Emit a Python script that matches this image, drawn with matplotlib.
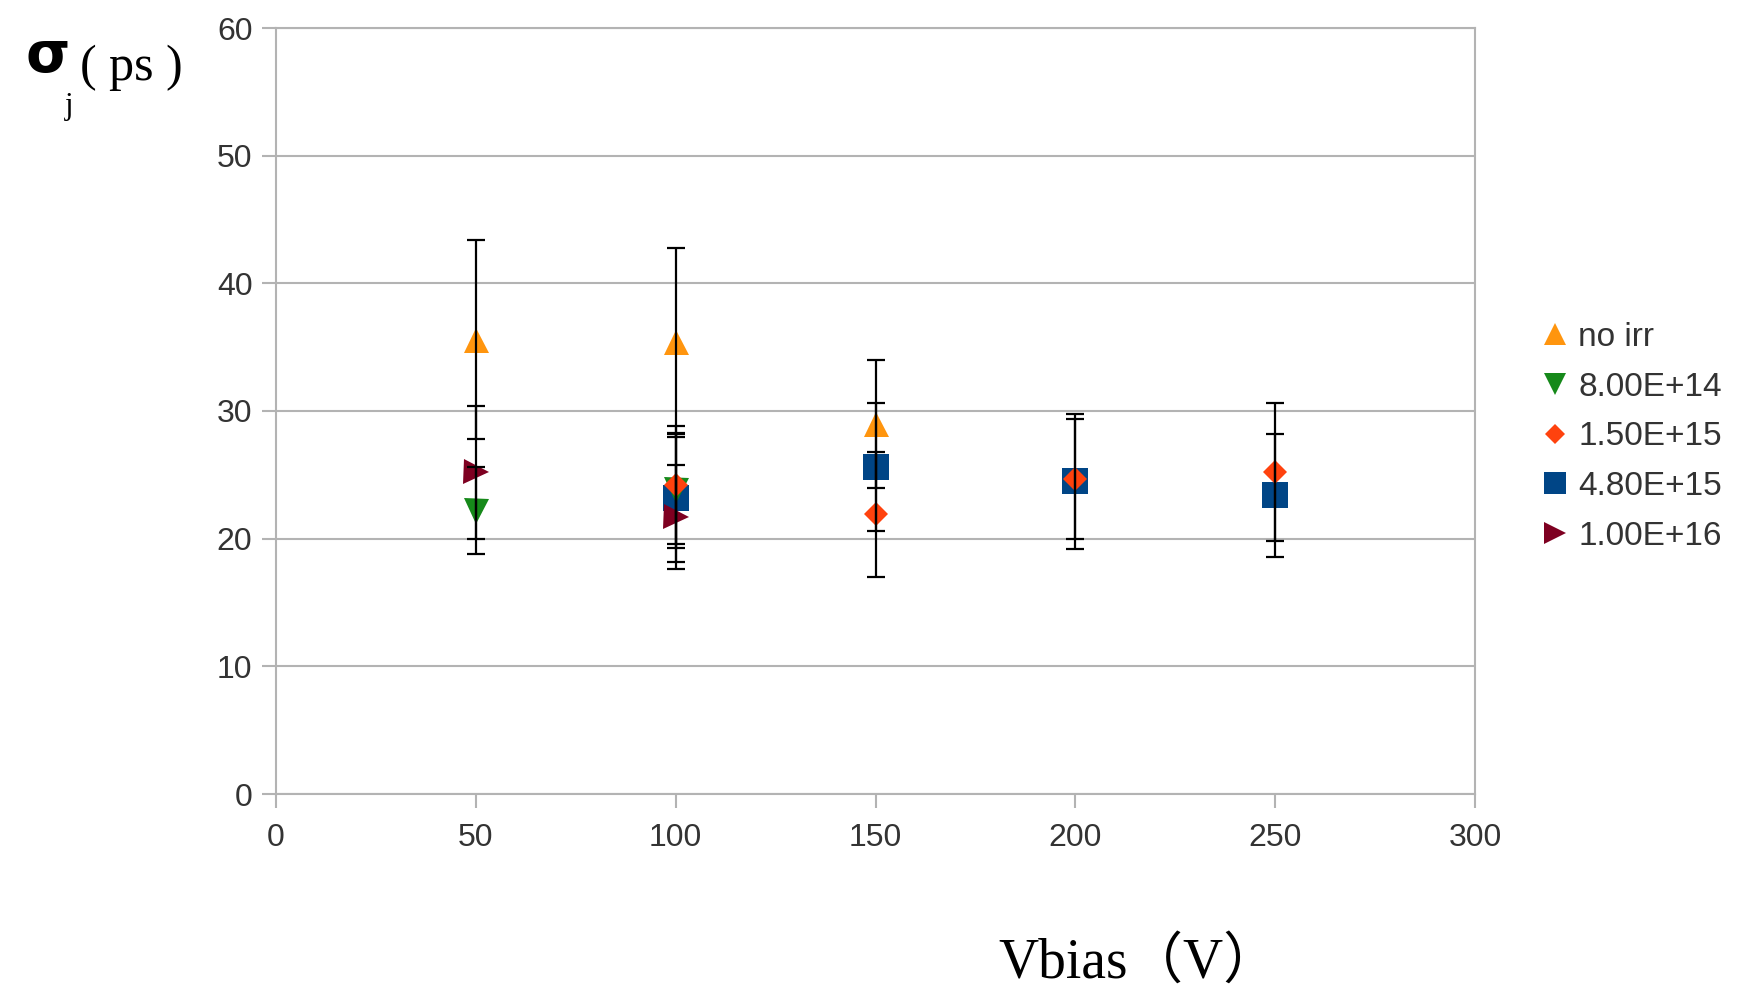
import numpy as np
import matplotlib
matplotlib.use('Agg')
import matplotlib.pyplot as plt

# Data: bias voltage (V), jitter (ps), error (ps)
series_labels = ['no irr', '8.00E+14', '1.50E+15', '4.80E+15', '1.00E+16']

noirr_x = [50, 100, 150]
noirr_y = [35.6, 35.4, 29.0]
noirr_err = [7.8, 7.4, 5.0]

f8e14_x = [50, 100]
f8e14_y = [22.2, 23.8]
f8e14_err = [3.4, 4.5]

f15e15_x = [100, 150, 200, 250]
f15e15_y = [24.2, 21.9, 24.7, 25.2]
f15e15_err = [4.6, 4.9, 4.7, 5.4]

f48e15_x = [100, 150, 200, 250]
f48e15_y = [23.2, 25.6, 24.5, 23.4]
f48e15_err = [5.0, 5.0, 5.3, 4.8]

f1e16_x = [50, 100]
f1e16_y = [25.2, 21.7]
f1e16_err = [5.2, 4.1]

x_ticks = [0, 50, 100, 150, 200, 250, 300]
y_ticks = [0, 10, 20, 30, 40, 50, 60]

series = [
    (noirr_x, noirr_y, noirr_err),
    (f8e14_x, f8e14_y, f8e14_err),
    (f15e15_x, f15e15_y, f15e15_err),
    (f48e15_x, f48e15_y, f48e15_err),
    (f1e16_x, f1e16_y, f1e16_err),
]
markers = ['^', 'v', 'D', 's', '>']
sizes = [18, 18, 12, 19, 18]
colors = ['#FF950E', '#16891A', '#FF420E', '#004586', '#7E0021']
# stacking: squares sit under the triangles / diamonds
zorders = [3.0, 3.2, 3.3, 3.1, 3.4]

plt.rcParams['font.family'] = ['Liberation Sans', 'DejaVu Sans']

W, H = 1764, 990
fig = plt.figure(figsize=(W / 100, H / 100), dpi=100)
ax = fig.add_axes([276 / W, 1 - 794 / H, (1475 - 276) / W, (794 - 28) / H])

grid_col = '#b3b3b3'

# markers first, error bars drawn over them
for (xs, ys, es), lab, m, s, c, z in zip(series, series_labels, markers, sizes, colors, zorders):
    ax.plot(xs, ys, linestyle='none', marker=m, markersize=s, color=c,
            markeredgewidth=0, label=lab, zorder=z)
for xs, ys, es in series:
    ax.errorbar(xs, ys, yerr=es, fmt='none', ecolor='black', elinewidth=1.6,
                capsize=6.5, capthick=1.6, zorder=4)

ax.set_xlim(0, 300)
ax.set_ylim(0, 60)
ax.set_xticks(x_ticks)
ax.set_yticks(y_ticks)
ax.yaxis.grid(True, color=grid_col, linewidth=1.5)
ax.set_axisbelow(True)
for sp in ax.spines.values():
    sp.set_color(grid_col)
    sp.set_linewidth(1.5)
ax.tick_params(axis='both', colors=grid_col, labelcolor='#333333', length=10,
               width=1.5, labelsize=23)
ax.tick_params(axis='x', pad=11)
ax.tick_params(axis='y', pad=7)

# legend at the right
leg = fig.legend(loc='upper left', bbox_to_anchor=(1540 / W, 1 - 322 / H),
                 frameon=False, fontsize=24, handlelength=0.9, handletextpad=0.25,
                 labelspacing=0.56, borderpad=0, borderaxespad=0, markerscale=0.85)
for t in leg.get_texts():
    t.set_color('#333333')

# axis titles
fig.text(26 / W, 1 - 72 / H, '\u03c3', fontsize=41, fontweight='bold',
         family=['DejaVu Sans'], ha='left', va='baseline')
fig.text(65 / W, 1 - 114 / H, 'j', fontsize=22, family=['Liberation Serif'],
         ha='left', va='baseline')
fig.text(80 / W, 1 - 80 / H, '( ps )', fontsize=36,
         family=['Liberation Serif'], ha='left', va='baseline')
fig.text(998 / W, 1 - 978 / H, 'Vbias\uff08V\uff09', fontsize=40,
         family=['Liberation Serif', 'Noto Sans CJK SC'], ha='left', va='baseline')

fig.savefig('out.png', dpi=100)
